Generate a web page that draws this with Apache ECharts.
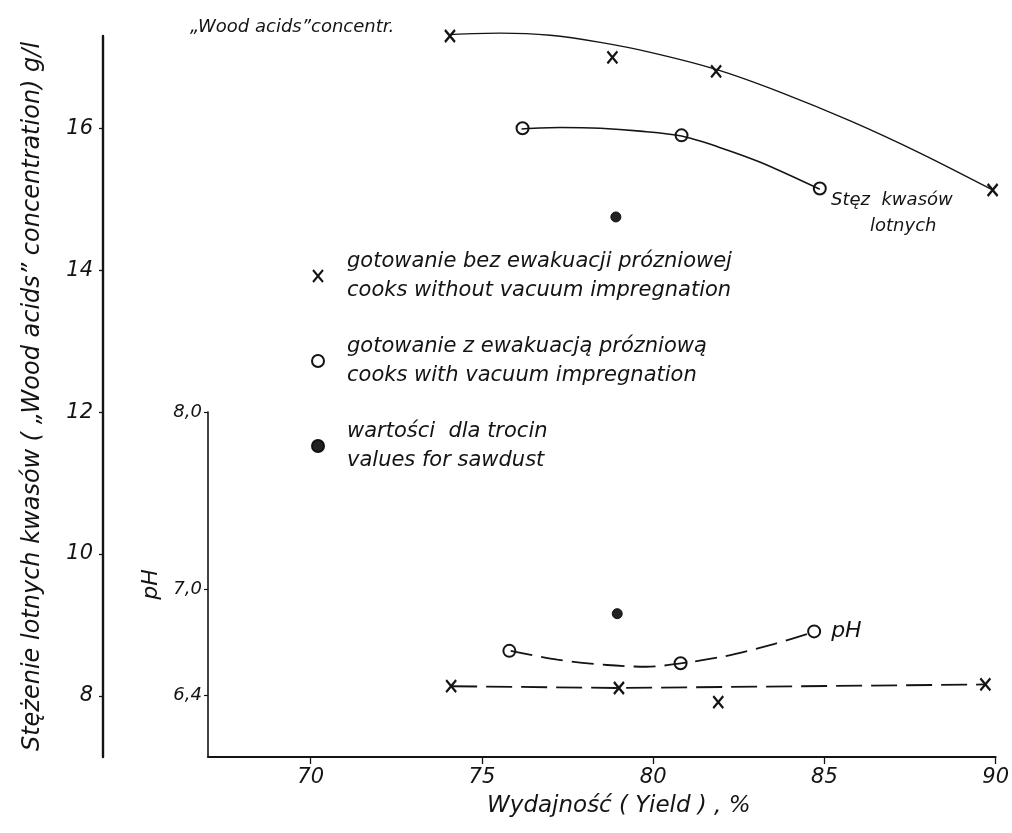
<!DOCTYPE html>
<html>
<head>
<meta charset="utf-8">
<script src="https://cdn.jsdelivr.net/npm/echarts@6/dist/echarts.min.js"></script>
<style>
  html, body { margin: 0; padding: 0; background: #fff; }
  #chart { width: 1012px; height: 833px; }
</style>
</head>
<body>
<div id="chart"></div>
<script>
// Yield (%) axis ticks
const yieldTicks = [70, 75, 80, 85, 90];
// Concentration axis ticks (g/l) and pH axis ticks
const concTicks = [8, 10, 12, 14, 16];
const phTicks = [6.4, 7.0, 8.0];
const phTickLabels = ['6,4', '7,0', '8,0'];

// Cooks without vacuum impregnation
const noVacYield = [74.0, 78.7, 81.7, 89.7];
const noVacConc = [17.3, 17.0, 16.8, 15.13];
const noVacPhYield = [74.1, 79.0, 81.9, 89.7];
const noVacPh = [6.45, 6.44, 6.36, 6.46];

// Cooks with vacuum impregnation
const vacYield = [76.1, 80.7, 84.7];
const vacConc = [16.0, 15.9, 15.15];
const vacPhYield = [75.8, 80.8, 84.7];
const vacPh = [6.65, 6.58, 6.76];

// Sawdust
const sawYield = [78.8];
const sawConc = [14.75];
const sawPhYield = [78.95];
const sawPh = [6.86];

// Hand-drawn trend curves, read along their length
const noVacCurveYield = [74.0, 75.45, 76.9, 78.35, 79.8, 81.7, 83.55, 85.6, 87.6, 89.7];
const noVacCurveConc = [17.32, 17.34, 17.31, 17.21, 17.07, 16.83, 16.51, 16.1, 15.65, 15.13];
const vacCurveYield = [76.07, 77.2, 78.35, 79.5, 80.7, 81.8, 82.98, 84.7];
const vacCurveConc = [15.99, 16.01, 16.0, 15.96, 15.89, 15.73, 15.52, 15.14];
const vacPhCurveYield = [75.84, 77.2, 78.65, 79.8, 80.84, 82.1, 83.55, 84.74];
const vacPhCurve = [6.65, 6.6, 6.57, 6.56, 6.58, 6.62, 6.69, 6.76];
const noVacPhLineYield = [74.1, 79.0, 89.7];
const noVacPhLine = [6.45, 6.44, 6.46];

const legendNames = [
  'gotowanie bez ewakuacji prózniowej\ncooks without vacuum impregnation',
  'gotowanie z ewakuacją prózniową\ncooks with vacuum impregnation',
  'wartości  dla trocin\nvalues for sawdust'
];

const INK = '#141414';
const FONT = "'DejaVu Sans', sans-serif";
const pairs = (xs, ys) => xs.map((x, i) => [x, ys[i]]);

const crossSymbol = 'path://M0 0L10 12M10 0L0 12';
const crossStyle = { color: 'rgba(0,0,0,0)', borderColor: INK, borderWidth: 2.3, opacity: 1 };
const circleStyle = { color: INK, borderColor: INK, borderWidth: 1.6, opacity: 1 };
const sawStyle = { color: '#222', borderColor: '#111', borderWidth: 1, opacity: 1 };

const baseText = { color: INK, fontFamily: FONT, fontStyle: 'italic' };

const chart = echarts.init(document.getElementById('chart'), null, { renderer: 'canvas' });

chart.setOption({
  backgroundColor: '#fff',
  animation: false,
  textStyle: baseText,
  grid: [
    { left: 208, right: 9, top: 36, bottom: 76 },
    { left: 208, right: 9, top: 412, bottom: 76 }
  ],
  xAxis: [
    { gridIndex: 0, type: 'value', min: 67, max: 90, show: false },
    {
      gridIndex: 1, type: 'value', min: 67, max: 90,
      name: 'Wydajność ( Yield ) , %',
      nameLocation: 'middle', nameGap: 38,
      nameTextStyle: Object.assign({}, baseText, { fontSize: 23, padding: [0, 0, 0, 34] }),
      axisLine: { show: true, lineStyle: { color: INK, width: 2 } },
      axisTick: { show: true, length: 7, lineStyle: { color: INK, width: 1.3 }, customValues: yieldTicks },
      axisLabel: Object.assign({}, baseText, { fontSize: 21, margin: 10, customValues: yieldTicks }),
      splitLine: { show: false }
    }
  ],
  yAxis: [
    {
      gridIndex: 0, type: 'value', min: 7.14, max: 17.3,
      position: 'left', offset: 105,
      name: 'Stężenie lotnych kwasów ( „Wood acids” concentration) g/l',
      nameLocation: 'middle', nameRotate: 90, nameGap: 58,
      nameTextStyle: Object.assign({}, baseText, { fontSize: 24 }),
      axisLine: { show: true, lineStyle: { color: INK, width: 2.4 } },
      axisTick: { show: true, length: 4, lineStyle: { color: INK, width: 1.3 }, customValues: concTicks },
      axisLabel: Object.assign({}, baseText, {
        fontSize: 21, margin: 10, customValues: concTicks,
        verticalAlign: 'middle', padding: [0, 0, 20, 0]
      }),
      splitLine: { show: false }
    },
    {
      gridIndex: 1, type: 'value', min: 6.05, max: 8.0,
      position: 'left',
      name: 'pH',
      nameLocation: 'middle', nameRotate: 90, nameGap: 36,
      nameTextStyle: Object.assign({}, baseText, { fontSize: 22 }),
      axisLine: { show: true, lineStyle: { color: INK, width: 1.6 } },
      axisTick: { show: true, length: 4, lineStyle: { color: INK, width: 1.2 }, customValues: phTicks },
      axisLabel: Object.assign({}, baseText, {
        fontSize: 18, margin: 6, customValues: phTicks,
        verticalAlign: 'middle', padding: [0, 0, 10, 0],
        formatter: v => {
          const i = phTicks.findIndex(t => Math.abs(t - v) < 1e-6);
          return i >= 0 ? phTickLabels[i] : '';
        }
      }),
      splitLine: { show: false }
    }
  ],
  legend: {
    data: legendNames,
    orient: 'vertical',
    left: 306, top: 242,
    itemGap: 27,
    itemWidth: 12, itemHeight: 12,
    selectedMode: false,
    textStyle: Object.assign({}, baseText, { fontSize: 21, lineHeight: 29, padding: [0, 0, 0, 18] })
  },
  graphic: [
    { type: 'text', left: 190, top: 18, style: { text: '„Wood acids”concentr.', font: 'italic 18px ' + FONT, fill: INK } },
    { type: 'text', left: 831, top: 191, style: { text: 'Stęz  kwasów', font: 'italic 18px ' + FONT, fill: INK } },
    { type: 'text', left: 870, top: 217, style: { text: 'lotnych', font: 'italic 18px ' + FONT, fill: INK } }
  ],
  series: [
    {
      name: 'curve-novac', type: 'line', xAxisIndex: 0, yAxisIndex: 0, silent: true, clip: false,
      data: pairs(noVacCurveYield, noVacCurveConc), smooth: 0.3, showSymbol: false,
      lineStyle: { color: INK, width: 1.4 }
    },
    {
      name: 'curve-vac', type: 'line', xAxisIndex: 0, yAxisIndex: 0, silent: true, clip: false,
      data: pairs(vacCurveYield, vacCurveConc), smooth: 0.3, showSymbol: false,
      lineStyle: { color: INK, width: 1.6 }
    },
    {
      name: 'curve-ph-vac', type: 'line', xAxisIndex: 1, yAxisIndex: 1, silent: true,
      data: pairs(vacPhCurveYield, vacPhCurve), smooth: 0.3, showSymbol: false,
      lineStyle: { color: INK, width: 1.8, type: [22, 9] }
    },
    {
      name: 'line-ph-novac', type: 'line', xAxisIndex: 1, yAxisIndex: 1, silent: true,
      data: pairs(noVacPhLineYield, noVacPhLine), showSymbol: false,
      lineStyle: { color: INK, width: 1.8, type: [26, 9] }
    },
    {
      name: legendNames[0], type: 'scatter', xAxisIndex: 0, yAxisIndex: 0, clip: false,
      data: pairs(noVacYield, noVacConc), symbol: crossSymbol, symbolSize: [10, 12], itemStyle: crossStyle
    },
    {
      name: legendNames[0], type: 'scatter', xAxisIndex: 1, yAxisIndex: 1, clip: false,
      data: pairs(noVacPhYield, noVacPh), symbol: crossSymbol, symbolSize: [10, 12], itemStyle: crossStyle
    },
    {
      name: legendNames[1], type: 'scatter', xAxisIndex: 0, yAxisIndex: 0, clip: false,
      data: pairs(vacYield, vacConc), symbol: 'emptyCircle', symbolSize: 12, itemStyle: circleStyle
    },
    {
      name: legendNames[1], type: 'scatter', xAxisIndex: 1, yAxisIndex: 1, clip: false,
      data: pairs(vacPhYield, vacPh), symbol: 'emptyCircle', symbolSize: 12, itemStyle: circleStyle,
      label: {
        show: true, position: 'right', distance: 10,
        formatter: p => (p.dataIndex === vacPh.length - 1 ? 'pH' : ''),
        fontSize: 22, color: INK, fontFamily: FONT, fontStyle: 'italic'
      }
    },
    {
      name: legendNames[2], type: 'scatter', xAxisIndex: 0, yAxisIndex: 0, clip: false,
      data: pairs(sawYield, sawConc), symbol: 'circle', symbolSize: 10, itemStyle: sawStyle
    },
    {
      name: legendNames[2], type: 'scatter', xAxisIndex: 1, yAxisIndex: 1, clip: false,
      data: pairs(sawPhYield, sawPh), symbol: 'circle', symbolSize: 10, itemStyle: sawStyle
    }
  ]
});
</script>
</body>
</html>
